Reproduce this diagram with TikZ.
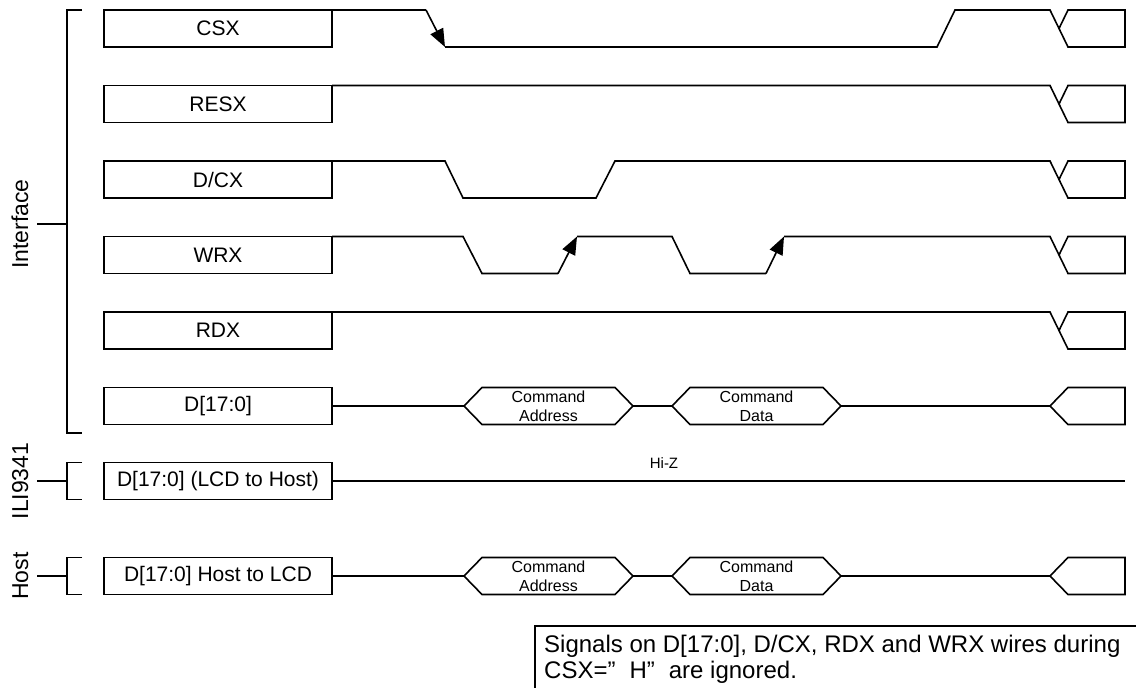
\documentclass[tikz,border=0pt]{standalone}
\usepackage{fontspec}
\setmainfont{Liberation Sans}
\usetikzlibrary{arrows.meta,positioning}

\begin{document}
\begin{tikzpicture}[x=1pt,y=-1pt,
  lbl/.style={draw,line width=1.4pt,minimum width=228pt,minimum height=37pt,
              inner sep=0pt,outer sep=0pt,font=\fontsize{21}{24}\selectfont},
  wave/.style={line width=1.6pt},
  edg/.style={wave,-{Triangle[length=18pt,width=14pt]}},
  brk/.style={line width=1.4pt},
  side/.style={rotate=90,anchor=base,inner sep=0pt,font=\fontsize{23}{26}\selectfont},
  cmd/.style={align=center,inner sep=0pt,font=\fontsize{16}{19}\selectfont}
]
\useasboundingbox (0,0) rectangle (1136,688);
\clip (0,0) rectangle (1136,688);

% signal names
\node[lbl] (csx) at (218,28.5) {CSX};
\node[lbl,below=38.5pt of csx] (resx) {RESX};
\node[lbl,below=38.5pt of resx] (dcx) {D/CX};
\node[lbl,below=38.5pt of dcx] (wrx) {WRX};
\node[lbl,below=38.5pt of wrx] (rdx) {RDX};
\node[lbl,below=38.5pt of rdx] (dbus) {D[17:0]};
\node[lbl,below=38pt of dbus] (lcd) {D[17:0] (LCD to Host)};
\node[lbl,below=58pt of lcd] (host) {D[17:0] Host to LCD};

% CSX
\draw[wave] (csx.north east) -- (426,10);
\draw[edg] (426,10) -- (445,47);
\draw[wave] (445,47) -- (937,47) -- (955,10) -- (1050,10) -- (1068,47) -- (1125,47)
  -- (1125,10) -- (1068,10) -- (1059,28.5);

% RESX, RDX
\foreach \s/\yt/\yb in {resx/85.5/122.5, rdx/312/349}
  \draw[wave] (\s.north east) -- (1050,\yt) -- (1068,\yb) -- (1125,\yb) -- (1125,\yt)
    -- (1068,\yt) -- (1059,{(\yt+\yb)/2});

% D/CX
\draw[wave] (dcx.north east) -- (445,161) -- (463,198) -- (596,198) -- (615,161)
  -- (1050,161) -- (1068,198) -- (1125,198) -- (1125,161) -- (1068,161) -- (1059,179.5);

% WRX
\draw[wave] (wrx.north east) -- (463,236.5) -- (482,273.5) -- (558,273.5);
\draw[edg] (558,273.5) -- (577,236.5);
\draw[wave] (577,236.5) -- (672,236.5) -- (690,273.5) -- (766,273.5);
\draw[edg] (766,273.5) -- (784,236.5);
\draw[wave] (784,236.5) -- (1050,236.5) -- (1068,273.5) -- (1125,273.5) -- (1125,236.5)
  -- (1068,236.5) -- (1059,255);

% data buses
\foreach \s/\y in {dbus/406,host/576}{
  \pgfmathsetmacro{\yt}{\y-18.5}
  \pgfmathsetmacro{\yb}{\y+18.5}
  \draw[wave] (\s.east) -- (464,\y) -- (482,\yt) -- (615,\yt) -- (633,\y) -- (672,\y)
    -- (690,\yt) -- (823,\yt) -- (841,\y) -- (1050,\y) -- (1068,\yt) -- (1125,\yt)
    -- (1125,\yb) -- (1068,\yb) -- (1050,\y);
  \draw[wave] (464,\y) -- (482,\yb) -- (615,\yb) -- (633,\y);
  \draw[wave] (672,\y) -- (690,\yb) -- (823,\yb) -- (841,\y);
  \node[cmd] (\s-adr) at (548.5,\y) {Command\\Address};
  \node[cmd] (\s-dat) at (756.5,\y) {Command\\Data};
}

% Hi-Z
\draw[wave] (lcd.east) -- (1125,481);
\node[font=\fontsize{15}{17}\selectfont,inner sep=0pt] (hiz) at (664,463) {Hi-Z};

% groups
\draw[brk] (82,10) -- (67,10) -- (67,433) -- (82,433);
\node[side] (ifc) at (28,224) {Interface};
\draw[brk] ([xshift=9pt]ifc.base) -- (67,224);

\draw[brk] (82,462.5) -- (67,462.5) -- (67,499.5) -- (82,499.5);
\node[side] (ili) at (28,481) {ILI9341};
\draw[brk] ([xshift=9pt]ili.base) -- (67,481);

\draw[brk] (82,557.5) -- (67,557.5) -- (67,594.5) -- (82,594.5);
\node[side] (hst) at (28,576) {Host};
\draw[brk] ([xshift=9pt]hst.base) -- (67,576);

% note
\draw[brk] (1150,626) -- (535,626) -- (535,700);
\node[anchor=base west,align=left,inner sep=0pt,font=\fontsize{24}{26}\selectfont] (note)
  at (544,678) {Signals on D[17:0], D/CX, RDX and WRX wires during\\
  CSX=”\hspace{14pt}H”\hspace{14pt}are ignored.};
\end{tikzpicture}
\end{document}
